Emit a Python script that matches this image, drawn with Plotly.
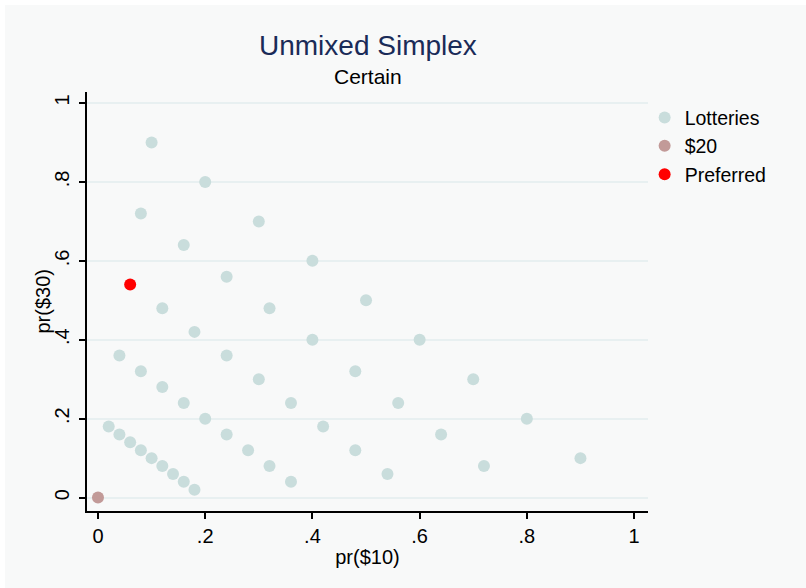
import plotly.graph_objects as go

# Lottery probabilities: pr($10) and pr($30)
lot_p10 = [0.10, 0.20, 0.08, 0.30, 0.16, 0.40, 0.24, 0.12, 0.32, 0.50,
           0.18, 0.40, 0.60, 0.04, 0.24, 0.08, 0.48, 0.30, 0.70, 0.12,
           0.16, 0.36, 0.56, 0.20, 0.80, 0.02, 0.42, 0.04, 0.24, 0.64,
           0.06, 0.08, 0.28, 0.48, 0.10, 0.90, 0.12, 0.32, 0.72, 0.14,
           0.54, 0.16, 0.36, 0.18]
lot_p30 = [0.90, 0.80, 0.72, 0.70, 0.64, 0.60, 0.56, 0.48, 0.48, 0.50,
           0.42, 0.40, 0.40, 0.36, 0.36, 0.32, 0.32, 0.30, 0.30, 0.28,
           0.24, 0.24, 0.24, 0.20, 0.20, 0.18, 0.18, 0.16, 0.16, 0.16,
           0.14, 0.12, 0.12, 0.12, 0.10, 0.10, 0.08, 0.08, 0.08, 0.06,
           0.06, 0.04, 0.04, 0.02]

certain_p10 = [0.0]
certain_p30 = [0.0]

preferred_p10 = [0.06]
preferred_p30 = [0.54]

tick_vals = [0, 0.2, 0.4, 0.6, 0.8, 1]
tick_text = ["0", ".2", ".4", ".6", ".8", "1"]

BG = "#f8f9f9"
FONT = "Liberation Sans, Arial, sans-serif"

fig = go.Figure()
fig.add_trace(go.Scatter(x=lot_p10, y=lot_p30, mode="markers", name="Lotteries",
                         marker=dict(size=12, color="#c9dddc")))
fig.add_trace(go.Scatter(x=certain_p10, y=certain_p30, mode="markers", name="$20",
                         marker=dict(size=12, color="#c29a98")))
fig.add_trace(go.Scatter(x=preferred_p10, y=preferred_p30, mode="markers", name="Preferred",
                         marker=dict(size=12, color="#ff0000")))

axis_common = dict(
    showline=True, linecolor="#000000", linewidth=1.5,
    ticks="outside", ticklen=6, tickcolor="#000000", tickwidth=1.5,
    tickvals=tick_vals, ticktext=tick_text,
    tickfont=dict(size=20, color="#000000", family=FONT),
    zeroline=False, mirror=False,
)

fig.update_layout(
    width=806, height=588,
    paper_bgcolor=BG, plot_bgcolor=BG,
    margin=dict(l=87, r=158, t=92, b=77),
    font=dict(family=FONT, color="#000000"),
    showlegend=True,
    legend=dict(x=0.994, y=0.985, xanchor="left", yanchor="top",
                bgcolor="rgba(0,0,0,0)", font=dict(size=19.5),
                itemwidth=30, tracegroupgap=0),
    xaxis=dict(range=[-0.0205, 1.026], showgrid=False,
               title=dict(text="pr($10)", font=dict(size=20), standoff=4),
               **axis_common),
    yaxis=dict(range=[-0.034, 1.028], showgrid=True, gridcolor="#e8f0f1", gridwidth=1.5,
               tickangle=-90, ticklabelstandoff=2,
               **axis_common),
)

# thin white frame along the top and left edges of the canvas
fig.add_shape(type="rect", xref="paper", yref="paper", layer="below",
              x0=-0.2, x1=1.5, y0=1.0 + 87 / 419.5, y1=1.5,
              fillcolor="#ffffff", line=dict(width=0))
fig.add_shape(type="rect", xref="paper", yref="paper", layer="below",
              x0=-0.2, x1=-82 / 561, y0=-0.5, y1=1.5,
              fillcolor="#ffffff", line=dict(width=0))

# y-axis title placed as rotated text left of the tick labels
fig.add_annotation(text="pr($30)", xref="paper", yref="paper",
                   x=-45 / 561, y=0.5, xanchor="center", yanchor="middle",
                   textangle=-90, showarrow=False,
                   font=dict(size=20, color="#000000", family=FONT))

fig.add_annotation(text="Unmixed Simplex", xref="paper", yref="paper",
                   x=0.5, y=1.0, yshift=47, yanchor="middle", showarrow=False,
                   font=dict(size=28, color="#1a2b58", family=FONT))
fig.add_annotation(text="Certain", xref="paper", yref="paper",
                   x=0.5, y=1.0, yshift=16, yanchor="middle", showarrow=False,
                   font=dict(size=21, color="#000000", family=FONT))

fig.write_html("out.html")
